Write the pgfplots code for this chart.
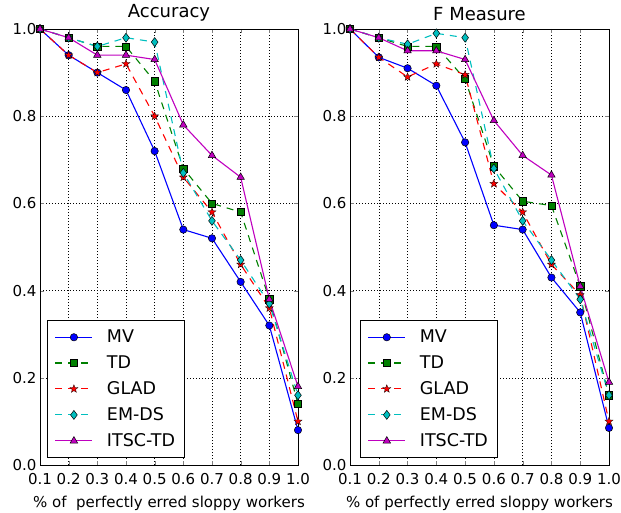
\documentclass[border=0pt]{standalone}
\usepackage{fontspec}
\setmainfont{DejaVu Sans}
\usepackage{pgfplots}
\usepackage{pgfplotstable}
\pgfplotsset{compat=1.18}
\usetikzlibrary{plotmarks}

\definecolor{mplb}{rgb}{0,0,1}
\definecolor{mplg}{rgb}{0,0.5,0}
\definecolor{mplr}{rgb}{1,0,0}
\definecolor{mplc}{rgb}{0,0.75,0.75}
\definecolor{mplm}{rgb}{0.75,0,0.75}

% filled five-pointed star
\pgfdeclareplotmark{fstar}{%
  \pgfpathmoveto{\pgfpointpolar{90}{\pgfplotmarksize}}%
  \pgfpathlineto{\pgfpointpolar{126}{0.42\pgfplotmarksize}}%
  \pgfpathlineto{\pgfpointpolar{162}{\pgfplotmarksize}}%
  \pgfpathlineto{\pgfpointpolar{198}{0.42\pgfplotmarksize}}%
  \pgfpathlineto{\pgfpointpolar{234}{\pgfplotmarksize}}%
  \pgfpathlineto{\pgfpointpolar{270}{0.42\pgfplotmarksize}}%
  \pgfpathlineto{\pgfpointpolar{306}{\pgfplotmarksize}}%
  \pgfpathlineto{\pgfpointpolar{342}{0.42\pgfplotmarksize}}%
  \pgfpathlineto{\pgfpointpolar{18}{\pgfplotmarksize}}%
  \pgfpathlineto{\pgfpointpolar{54}{0.42\pgfplotmarksize}}%
  \pgfpathclose
  \pgfusepathqfillstroke}

\pgfplotstableread{
x   MV    TD    GLAD  EMDS  ITSC
0.1 1.00  1.00  1.00  1.00  1.00
0.2 0.94  0.98  0.94  0.98  0.98
0.3 0.90  0.96  0.90  0.96  0.94
0.4 0.86  0.96  0.92  0.98  0.94
0.5 0.72  0.88  0.80  0.97  0.93
0.6 0.54  0.68  0.66  0.67  0.78
0.7 0.52  0.60  0.58  0.56  0.71
0.8 0.42  0.58  0.46  0.47  0.66
0.9 0.32  0.38  0.36  0.37  0.38
1.0 0.08  0.14  0.10  0.16  0.18
}\accdata

\pgfplotstableread{
x   MV    TD    GLAD  EMDS  ITSC
0.1 1.00  1.00  1.00  1.00  1.00
0.2 0.935 0.98  0.935 0.98  0.98
0.3 0.91  0.96  0.89  0.965 0.95
0.4 0.87  0.96  0.92  0.99  0.95
0.5 0.74  0.885 0.895 0.98  0.93
0.6 0.55  0.685 0.645 0.68  0.79
0.7 0.54  0.605 0.58  0.56  0.71
0.8 0.43  0.595 0.46  0.47  0.665
0.9 0.35  0.41  0.39  0.38  0.41
1.0 0.085 0.16  0.10  0.16  0.19
}\fmdata

\pgfplotsset{
  mplax/.style={
    scale only axis,
    width=258pt, height=436pt,
    xmin=0.1, xmax=1.0, ymin=0, ymax=1.0,
    xtick={0.1,0.2,...,1.0},
    ytick={0,0.2,...,1.0},
    tick align=inside,
    major tick length=4pt,
    axis line style={black, line width=0.8pt},
    grid=major,
    major grid style={black, line width=0.5pt, dash pattern=on 1pt off 2pt},
    /pgf/number format/assume math mode=true,
    xticklabel style={/pgf/number format/fixed, /pgf/number format/fixed zerofill, /pgf/number format/precision=1, yshift=-5pt},
    yticklabel style={/pgf/number format/fixed, /pgf/number format/fixed zerofill, /pgf/number format/precision=1},
    tick label style={font=\fontsize{15}{18}\selectfont},
    xlabel style={font=\fontsize{15}{18}\selectfont, yshift=-4pt},
    title style={font=\fontsize{18}{21}\selectfont, yshift=-1.5pt},
    legend cell align=left,
    legend style={font=\fontsize{17.5}{21}\selectfont, anchor=south west,
      draw=black, line width=0.8pt, row sep=7.5pt, inner sep=7.5pt,
      /tikz/every odd column/.append style={column sep=12pt}},
    legend image code/.code={%
      \draw[mark repeat=2, mark phase=2] plot coordinates {(0pt,0pt) (18.5pt,0pt) (37pt,0pt)};},
    every axis plot/.append style={line width=1.1pt},
  },
  smv/.style={mplb, mark=*, mark size=3.7pt, mark options={solid, draw=black, fill=mplb, line width=0.5pt}},
  std/.style={mplg, dash pattern=on 7pt off 6pt, mark=square*, mark size=3.6pt, mark options={solid, draw=black, fill=mplg, line width=0.5pt}},
  sglad/.style={mplr, dash pattern=on 7pt off 6pt, mark=fstar, mark size=4.2pt, mark options={solid, draw=black, fill=mplr, line width=0.3pt}},
  semds/.style={mplc, dash pattern=on 7pt off 6pt, mark=diamond*, mark size=4.5pt, mark options={solid, draw=black, fill=mplc, line width=0.5pt}},
  sitsc/.style={mplm, mark=triangle*, mark size=4.3pt, mark options={solid, draw=black, fill=mplm, line width=0.5pt}},
}

\begin{document}
\begin{tikzpicture}[x=1pt,y=1pt]
\path[use as bounding box] (0,0) rectangle (621,512);

\begin{axis}[mplax, at={(40pt,47pt)}, anchor=south west,
  title={Accuracy},
  xlabel={\% of \ perfectly erred sloppy workers},
  legend style={at={(0.027,0.016)}}]
  \addplot[smv]   table[x=x, y=MV]   {\accdata};
  \addplot[std]   table[x=x, y=TD]   {\accdata};
  \addplot[sglad] table[x=x, y=GLAD] {\accdata};
  \addplot[semds] table[x=x, y=EMDS] {\accdata};
  \addplot[sitsc] table[x=x, y=ITSC] {\accdata};
  \legend{MV, TD, GLAD, EM-DS, ITSC-TD}
\end{axis}

\begin{axis}[mplax, at={(350pt,47pt)}, anchor=south west,
  width=259pt,
  title={F Measure},
  xlabel={\% of perfectly erred sloppy workers},
  legend style={at={(0.038,0.016)}}]
  \addplot[smv]   table[x=x, y=MV]   {\fmdata};
  \addplot[std]   table[x=x, y=TD]   {\fmdata};
  \addplot[sglad] table[x=x, y=GLAD] {\fmdata};
  \addplot[semds] table[x=x, y=EMDS] {\fmdata};
  \addplot[sitsc] table[x=x, y=ITSC] {\fmdata};
  \legend{MV, TD, GLAD, EM-DS, ITSC-TD}
\end{axis}
\end{tikzpicture}
\end{document}
